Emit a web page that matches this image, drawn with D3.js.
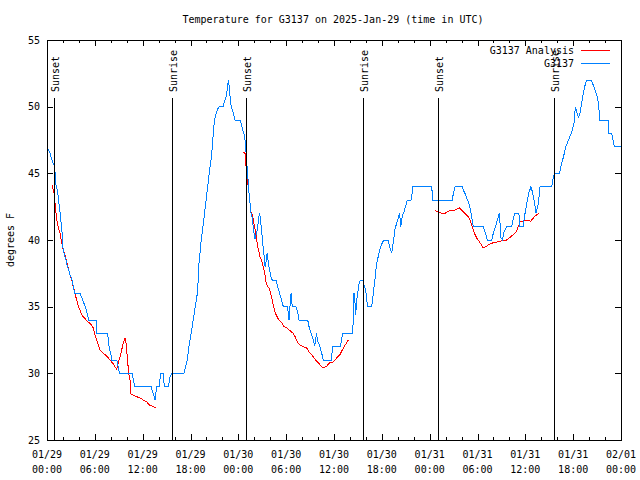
<!DOCTYPE html>
<html><head><meta charset="utf-8">
<script src="https://cdn.jsdelivr.net/npm/d3@7"></script>
<style>
html,body{margin:0;padding:0;background:#fff;}
svg{display:block;}
text{font-family:"DejaVu Sans Mono","Liberation Mono",monospace;font-size:10px;fill:#000;}
</style>
</head><body>
<svg id="c" width="640" height="480"></svg>
<script>
const titleText = "Temperature for G3137 on 2025-Jan-29 (time in UTC)";
const yAxisLabel = "degrees F";
const startTime = Date.UTC(2025, 0, 29, 0, 0);
const endTime = Date.UTC(2025, 1, 1, 0, 0);
const yTicks = [25, 30, 35, 40, 45, 50, 55];
const seriesNames = ["G3137 Analysis", "G3137"];
const seriesColors = ["#ff0000", "#0080ff"];
const sunLabels = ["Sunset", "Sunrise", "Sunset", "Sunrise", "Sunset", "Sunrise"];
const sunHours = [0.88, 15.68, 24.96, 39.64, 49.05, 63.6];

// G3137 observations: [hours since 01/29 00:00 UTC, degrees F]
const obsPoints = [[0,47],[0.38,46.5],[0.63,46],[0.88,45.6],[1.0,45.1],[1.13,44.1],[1.34,43.6],[1.47,42.85],[1.63,42.1],[1.76,41.35],[1.88,40.6],[2.01,39.4],[2.13,39],[2.38,38.5],[2.51,38.1],[2.72,37.75],[2.88,37.4],[3.14,37],[3.26,36.6],[3.47,36],[4.14,36],[4.39,35.65],[4.6,35.3],[4.85,34.9],[5.02,34.5],[5.23,34],[6.23,34],[6.24,33],[7.61,33],[7.69,32.5],[7.81,31.9],[7.99,31.5],[8.12,31],[8.74,31],[8.94,30.5],[9.07,30],[10.7,30],[10.83,29.5],[11.04,29],[13.05,29],[13.33,28.5],[13.55,28],[13.76,29],[14.05,29],[14.26,30],[14.59,30],[14.71,29],[15.22,29],[15.43,29.7],[15.64,30],[17.19,30],[17.4,30.5],[17.6,31],[17.81,32],[18.19,33.4],[18.57,34.9],[18.78,35.65],[18.9,36.25],[19.07,38.3],[19.19,39],[19.32,39.85],[19.48,40.6],[19.66,41.5],[19.78,42.1],[19.94,42.85],[20.07,43.6],[20.23,44.35],[20.36,45.1],[20.53,45.8],[20.66,46.5],[20.79,47.35],[20.86,48.1],[20.99,48.85],[21.16,49.4],[21.36,49.75],[21.58,50],[22.12,50],[22.24,50.35],[22.42,50.65],[22.54,51],[22.67,51.6],[22.74,52],[22.83,51.6],[22.92,51],[22.99,50.65],[23.08,50.1],[23.24,49.75],[23.42,49.4],[23.58,49],[24.21,49],[24.33,48.8],[24.5,48.4],[24.62,48.1],[24.75,47.9],[24.84,47.5],[24.92,47],[25.0,46.2],[25.09,45.5],[25.18,44.9],[25.25,44.3],[25.34,43.5],[25.46,42.8],[25.59,42],[25.72,41.7],[25.8,41.3],[25.97,40.5],[26.09,40.1],[26.3,40.5],[26.43,41],[26.55,41.7],[26.68,42],[26.8,41.35],[26.93,40.75],[27.01,40],[27.13,39.4],[27.26,38.65],[27.35,38],[27.47,38.35],[27.6,39],[27.72,38.5],[27.85,38],[27.97,37.6],[28.1,37.2],[28.26,37],[28.73,37],[28.89,36.6],[29.06,36.25],[29.23,35.9],[29.44,35.5],[29.57,35.1],[29.73,35],[30.14,35],[30.27,34.5],[30.36,34],[30.48,35],[30.61,36],[30.77,35],[31.23,35],[31.45,34.6],[31.61,34],[32.7,34],[32.87,33.5],[33.08,33.1],[33.28,32.7],[33.4,32.5],[33.58,32.05],[33.71,32.65],[33.83,33],[33.9,32.5],[34.03,32.3],[34.24,32],[34.46,31.5],[34.66,31],[35.71,31],[35.79,32],[36.75,32],[36.97,32.5],[37.04,33],[38.3,33],[38.42,33.85],[38.51,36],[38.63,35.3],[38.72,34.4],[38.85,35.5],[38.97,36],[39.17,36.8],[39.35,37],[39.6,37],[39.77,36.6],[39.89,36.4],[40.02,36],[40.1,35.5],[40.23,35],[40.73,35],[40.86,35.65],[41.02,36.5],[41.18,37.2],[41.31,38.1],[41.44,38.5],[41.61,38.9],[41.74,39.25],[41.86,39.5],[42.06,39.8],[42.27,40],[42.81,40],[42.94,39.6],[43.11,39.25],[43.24,39],[43.36,39.5],[43.53,40.2],[43.62,40.75],[43.74,41],[43.87,41.3],[43.99,41.5],[44.12,41.75],[44.19,42],[44.28,41.65],[44.37,41],[44.49,41.5],[44.62,41.9],[44.78,42.1],[44.91,42.4],[45.03,42.6],[45.2,43],[45.66,43],[45.79,43.5],[45.87,44],[48.26,44],[48.38,43],[50.84,43],[50.97,43.5],[51.18,44],[52.1,44],[52.22,43.75],[52.43,43.5],[52.64,43.15],[52.84,42.9],[53.06,42.4],[53.27,41.75],[53.47,41],[54.73,41],[54.85,40.75],[55.07,40.4],[55.23,40],[55.78,40],[55.98,40.5],[56.21,40.9],[56.42,41.35],[56.61,41.75],[56.74,42],[56.82,41.3],[56.91,40.2],[57.16,40],[57.24,40.5],[57.45,40.75],[57.66,41],[58.29,41],[58.49,41.6],[58.7,42],[59.2,42],[59.24,41],[59.75,41],[59.87,41.7],[60.09,42.4],[60.25,43],[60.42,43.5],[60.71,44],[60.93,43.5],[61.09,43],[61.25,42.4],[61.34,42],[61.51,42.4],[61.63,42.75],[61.76,43.5],[61.84,44],[63.31,44],[63.51,44.7],[63.69,45],[64.26,45],[64.44,45.4],[64.56,45.8],[64.77,46.2],[64.98,46.75],[65.1,47.05],[65.32,47.35],[65.52,47.65],[65.73,47.95],[65.89,48.25],[66.02,48.6],[66.15,48.9],[66.27,50],[66.45,49.6],[66.65,49.2],[66.86,49.5],[67.07,50.3],[67.27,51],[67.49,51.6],[67.7,52],[68.2,52],[68.4,51.8],[68.65,51.4],[68.95,50.9],[69.16,50.3],[69.28,49.5],[69.29,49],[70.41,49],[70.42,48],[70.84,48],[70.97,47.6],[71.17,47],[72,47]];

// G3137 Analysis: [hours, degrees F]; null marks a gap
const analysisPoints = [[0.66,44.1],[0.79,43.75],[0.92,43.4],[1.0,42.8],[1.13,42],[1.29,41.3],[1.42,40.9],[1.63,40.5],[1.84,39.85],[2.04,39.25],[2.26,38.9],[2.47,38.35],[2.67,37.9],[2.88,37.4],[3.1,37],[3.3,36.5],[3.51,36],[3.72,35.5],[3.93,35.05],[4.14,34.75],[4.35,34.4],[4.68,34.15],[5.18,33.85],[5.61,33.6],[5.81,33.4],[6.02,32.9],[6.23,32.5],[6.44,32.1],[6.65,31.75],[7.06,31.5],[7.49,31.3],[7.9,31],[8.32,30.7],[8.74,30.3],[8.94,30.8],[9.16,31.2],[9.37,31.75],[9.57,32.3],[9.78,32.65],[9.91,32.3],[10.07,31.2],[10.25,30],[10.41,29.5],[10.54,28.45],[11.04,28.3],[11.67,28.15],[12.08,28],[12.51,27.85],[12.92,27.6],[13.33,27.5],[13.67,27.4],
[14,null],
[24.62,46.6],[24.84,46.5],[24.92,45.8],[25.05,45],[25.18,44.3],[25.34,43.5],[25.46,42.8],[25.59,42.1],[25.75,41.9],[25.88,41.5],[26.0,41.1],[26.18,40.5],[26.3,40],[26.43,39.5],[26.59,39.1],[26.72,38.7],[26.93,38.5],[27.06,38.1],[27.22,37.75],[27.35,37.4],[27.47,36.85],[27.68,36.5],[27.88,36.4],[28.06,36],[28.19,35.65],[28.31,35.3],[28.47,34.9],[28.69,34.45],[28.94,34.15],[29.23,33.9],[29.44,33.8],[29.64,33.55],[30.07,33.4],[30.48,33.2],[30.9,33],[31.2,32.65],[31.45,32.3],[31.74,32.1],[32.15,32],[32.58,31.9],[32.87,31.6],[33.2,31.4],[33.49,31.15],[33.83,30.9],[34.16,30.7],[34.46,30.5],[34.66,30.4],[35.09,30.55],[35.5,30.8],[35.91,30.85],[36.34,31.15],[36.75,31.4],[37.04,31.75],[37.38,32.1],[37.79,32.5],
[38,null],
[48.67,42.2],[49.08,42.1],[49.51,42],[49.92,42],[50.14,42.1],[50.55,42.2],[50.97,42.2],[51.39,42.3],[51.72,42.4],[52.02,42.25],[52.22,42.1],[52.43,42],[52.84,41.75],[53.06,41.5],[53.27,41.1],[53.47,40.75],[53.69,40.4],[53.9,40.15],[54.31,39.8],[54.73,39.4],[55.16,39.55],[55.57,39.7],[55.98,39.8],[56.41,39.85],[56.82,39.9],[57.24,40],[57.66,40],[58.07,40.2],[58.49,40.4],[58.83,40.6],[59.12,41],[59.33,41.35],[59.75,41.4],[60.17,41.5],[60.67,41.4],[61.0,41.65],[61.42,41.9],[61.75,42]];

const toDate = h => new Date(startTime + h * 3600e3);

const svg = d3.select("#c");
const L = 47, R = 621, T = 40, B = 440;
const x = d3.scaleUtc().domain([new Date(startTime), new Date(endTime)]).range([L, R]);
const y = d3.scaleLinear().domain([25, 55]).range([B, T]);

const g = svg.append("g").attr("shape-rendering", "crispEdges");

// title
svg.append("text").attr("x", 333).attr("y", 23).attr("text-anchor", "middle").text(titleText);
// y label
svg.append("text").attr("transform", "translate(14,240) rotate(-90)").attr("text-anchor", "middle").text(yAxisLabel);

// ticks
const major = d3.utcHour.every(6).range(new Date(startTime), new Date(endTime + 1));
const minor = d3.utcHour.every(2).range(new Date(startTime), new Date(endTime + 1));
const px = v => Math.round(v) + 0.5;
minor.forEach(d => {
  const xx = px(x(d));
  g.append("line").attr("x1", xx).attr("x2", xx).attr("y1", B).attr("y2", B - 3).attr("stroke", "#000");
  g.append("line").attr("x1", xx).attr("x2", xx).attr("y1", T).attr("y2", T + 3).attr("stroke", "#000");
});
const fD = d3.utcFormat("%m/%d"), fT = d3.utcFormat("%H:%M");
major.forEach(d => {
  const xx = px(x(d));
  g.append("line").attr("x1", xx).attr("x2", xx).attr("y1", B).attr("y2", B - 6).attr("stroke", "#000");
  g.append("line").attr("x1", xx).attr("x2", xx).attr("y1", T).attr("y2", T + 6).attr("stroke", "#000");
  svg.append("text").attr("x", x(d)).attr("y", 458).attr("text-anchor", "middle").text(fD(d));
  svg.append("text").attr("x", x(d)).attr("y", 473).attr("text-anchor", "middle").text(fT(d));
});
yTicks.forEach(v => {
  const yy = px(y(v));
  g.append("line").attr("x1", L).attr("x2", L + 6).attr("y1", yy).attr("y2", yy).attr("stroke", "#000");
  g.append("line").attr("x1", R).attr("x2", R - 6).attr("y1", yy).attr("y2", yy).attr("stroke", "#000");
  svg.append("text").attr("x", 40).attr("y", y(v) + 3.5).attr("text-anchor", "end").text(v);
});

// data lines
const line = d3.line().defined(d => d[1] != null).x(d => x(toDate(d[0]))).y(d => y(d[1]));
g.append("path").datum(analysisPoints).attr("d", line).attr("fill", "none").attr("stroke", seriesColors[0]).attr("stroke-width", 1);
g.append("path").datum(obsPoints).attr("d", line).attr("fill", "none").attr("stroke", seriesColors[1]).attr("stroke-width", 1);

// sun events
sunHours.forEach((h, i) => {
  const xx = px(x(toDate(h)));
  g.append("line").attr("x1", xx).attr("x2", xx).attr("y1", T + 58).attr("y2", B).attr("stroke", "#000");
  svg.append("text").attr("transform", `translate(${xx + 4.5},${T + 52}) rotate(-90)`).attr("text-anchor", "start").text(sunLabels[i]);
});

// frame
g.append("rect").attr("x", L + 0.5).attr("y", T + 0.5).attr("width", R - L).attr("height", B - T).attr("fill", "none").attr("stroke", "#000");

// legend
seriesNames.forEach((n, i) => {
  const ly = 53.5 + i * 13;
  svg.append("text").attr("x", 574).attr("y", ly).attr("text-anchor", "end").text(n);
  g.append("line").attr("x1", 581).attr("x2", 610).attr("y1", Math.round(ly - 4) + 0.5).attr("y2", Math.round(ly - 4) + 0.5).attr("stroke", seriesColors[i]);
});
</script>
</body></html>
